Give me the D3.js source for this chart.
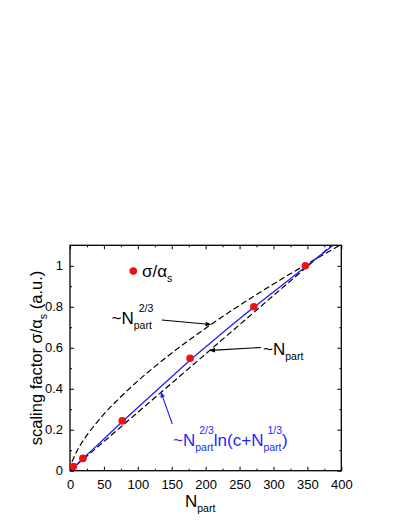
<!DOCTYPE html>
<html>
<head>
<meta charset="utf-8">
<script src="https://cdn.jsdelivr.net/npm/d3@7"></script>
<style>
  body { margin: 0; background: #fff; }
  text { font-family: 'Liberation Sans', Arial, sans-serif; white-space: pre; }
</style>
</head>
<body>
<svg id="chart"></svg>
<script>
// values
const xTicks = [0, 50, 100, 150, 200, 250, 300, 350, 400];
const xMinor = [25, 75, 125, 175, 225, 275, 325, 375];
const yTicks = [0, 0.2, 0.4, 0.6, 0.8, 1];
const yMinor = [0.1, 0.3, 0.5, 0.7, 0.9];

const pointN = [5, 19, 77, 177, 271, 347];
const pointS = [0.02, 0.06, 0.243, 0.549, 0.80, 1.0];

// ~Npart^(2/3) dashed curve
const powN = [0, 2, 5, 10, 20, 35, 50, 75, 100, 125, 150, 175, 200, 225, 250, 275, 300, 325, 350, 375, 398];
const powV = [0, 0.032, 0.059, 0.094, 0.150, 0.217, 0.276, 0.361, 0.438, 0.508, 0.574, 0.636, 0.695, 0.752, 0.807, 0.860, 0.911, 0.961, 1.010, 1.057, 1.1];

// ~Npart dashed line
const linN = [0, 386];
const linV = [0, 1.1];

// blue fit ~Npart^(2/3) ln(c+Npart^(1/3))
const fitN = [0, 5, 20, 50, 77, 100, 150, 177, 200, 250, 300, 347, 388];
const fitV = [0, 0.015, 0.062, 0.155, 0.239, 0.308, 0.458, 0.539, 0.604, 0.742, 0.872, 0.994, 1.1];

const W = 411, H = 532;
const pLeft = 70, pRight = 341.3, pTop = 245.3, pBottom = 470.7;

const svg = d3.select('#chart').
  attr('width', W).
  attr('height', H);

const x = d3.scaleLinear().domain([0, 400]).range([pLeft, pRight]);
const y = d3.scaleLinear().domain([0, 1.1]).range([pBottom, pTop]);

svg.append('defs').append('clipPath').attr('id', 'plot').
  append('rect').
  attr('x', pLeft).attr('y', pTop).
  attr('width', pRight - pLeft).attr('height', pBottom - pTop);

// ticks, all pointing inward
function ticks(axis, pos, values, size, labels) {
  const a = axis.tickValues(values).tickSizeInner(-size).tickSizeOuter(0);
  if (labels) a.tickPadding(labels); else a.tickFormat('');
  const g = svg.append('g').attr('transform', pos).call(a);
  g.select('.domain').remove();
  g.selectAll('line').attr('stroke', '#000').attr('stroke-width', 1);
  g.selectAll('text').attr('font-size', 13).attr('fill', '#000').
    attr('font-family', "'Liberation Sans', Arial, sans-serif");
  return g;
}
ticks(d3.axisBottom(x), `translate(0,${pBottom})`, xTicks, 4, 9);
ticks(d3.axisBottom(x), `translate(0,${pBottom})`, xMinor, 2);
ticks(d3.axisTop(x), `translate(0,${pTop})`, xTicks, 4);
ticks(d3.axisTop(x), `translate(0,${pTop})`, xMinor, 2);
ticks(d3.axisLeft(y).tickFormat(d => d === 0 || d === 1 ? d : d.toFixed(1)), `translate(${pLeft},0)`, yTicks, 4, 7);
ticks(d3.axisLeft(y), `translate(${pLeft},0)`, yMinor, 2);
ticks(d3.axisRight(y), `translate(${pRight},0)`, yTicks, 4);
ticks(d3.axisRight(y), `translate(${pRight},0)`, yMinor, 2);

svg.append('rect').
  attr('x', pLeft).attr('y', pTop).
  attr('width', pRight - pLeft).attr('height', pBottom - pTop).
  attr('fill', 'none').attr('stroke', '#000').attr('stroke-width', 1.3);

const line = d3.line().x(d => x(d[0])).y(d => y(d[1])).curve(d3.curveMonotoneX);
const curves = svg.append('g').attr('clip-path', 'url(#plot)');

curves.append('path').
  attr('d', line(powN.map((n, i) => [n, powV[i]]))).
  attr('fill', 'none').attr('stroke', '#000').attr('stroke-width', 1.2).
  attr('stroke-dasharray', '6,3');

curves.append('path').
  attr('d', line(linN.map((n, i) => [n, linV[i]]))).
  attr('fill', 'none').attr('stroke', '#000').attr('stroke-width', 1.2).
  attr('stroke-dasharray', '6,3');

curves.append('path').
  attr('d', line(fitN.map((n, i) => [n, fitV[i]]))).
  attr('fill', 'none').attr('stroke', '#1f1fff').attr('stroke-width', 1.3);

svg.append('g').
  selectAll('circle').
  data(pointN.map((n, i) => [n, pointS[i]])).
  enter().append('circle').
  attr('cx', d => x(d[0])).
  attr('cy', d => y(d[1])).
  attr('r', 3.8).
  attr('fill', '#f01010');

// text with sub/superscripts; stacked pieces share the x of the previous piece
function rich(parent, x0, y0, pieces, fill) {
  let cx = x0, start = x0;
  pieces.forEach(p => {
    const t = parent.append('text').
      attr('x', (p.stack ? start : cx) + (p.sx || 0)).
      attr('y', y0 + (p.dy || 0)).
      attr('font-size', p.size).
      attr('fill', fill).
      text(p.t);
    const w = t.node().getComputedTextLength();
    if (p.stack) {
      cx = Math.max(cx, start + (p.sx || 0) + w);
    } else {
      start = cx; cx += w;
    }
  });
  return cx - x0;
}

const big = 17, small = 10.5;

// legend
svg.append('circle').attr('cx', 133.3).attr('cy', 271).attr('r', 3.8).attr('fill', '#f01010');
rich(svg, 142, 277, [
  { t: 'σ/α', size: big },
  { t: 's', size: small, dy: 5 }
], '#000');

// ~Npart^2/3
rich(svg, 111.5, 324, [
  { t: '~N', size: big },
  { t: 'part', size: small, dy: 5 },
  { t: '2/3', size: small, dy: -12, stack: true, sx: 5 }
], '#000');

// ~Npart
rich(svg, 263, 355, [
  { t: '~N', size: big },
  { t: 'part', size: small, dy: 5 }
], '#000');

// blue fit label
rich(svg, 173, 446, [
  { t: '~N', size: big },
  { t: 'part', size: small, dy: 5 },
  { t: '2/3', size: small, dy: -12, stack: true, sx: 4 },
  { t: 'ln(c+N', size: big },
  { t: 'part', size: small, dy: 5 },
  { t: '1/3', size: small, dy: -12, stack: true, sx: 4 },
  { t: ')', size: big }
], '#1f1fff');

// arrows
function arrow(x1, y1, x2, y2, color) {
  const ang = Math.atan2(y2 - y1, x2 - x1);
  const len = 6, half = 2.3;
  const bx = x2 - len * Math.cos(ang), by = y2 - len * Math.sin(ang);
  svg.append('line').
    attr('x1', x1).attr('y1', y1).attr('x2', bx).attr('y2', by).
    attr('stroke', color).attr('stroke-width', 1.1);
  svg.append('path').
    attr('d', `M${x2},${y2}L${bx - half * Math.sin(ang)},${by + half * Math.cos(ang)}L${bx + half * Math.sin(ang)},${by - half * Math.cos(ang)}Z`).
    attr('fill', color);
}
arrow(161.7, 320, 211.5, 324.5, '#000');
arrow(261, 347.5, 209, 350.5, '#000');
arrow(172.3, 424, 160.7, 391.5, '#1f1fff');

// axis titles
rich(svg, 185, 507, [
  { t: 'N', size: big },
  { t: 'part', size: small, dy: 5 }
], '#000');

const yTitle = svg.append('g');
const tw = rich(yTitle, 0, 0, [
  { t: 'scaling factor σ/α', size: 16.5 },
  { t: 's', size: small, dy: 5 },
  { t: ' (a.u.)', size: 16.5 }
], '#000');
yTitle.attr('transform', `translate(42,${(pTop + pBottom) / 2 + tw / 2}) rotate(-90)`);
</script>
</body>
</html>
